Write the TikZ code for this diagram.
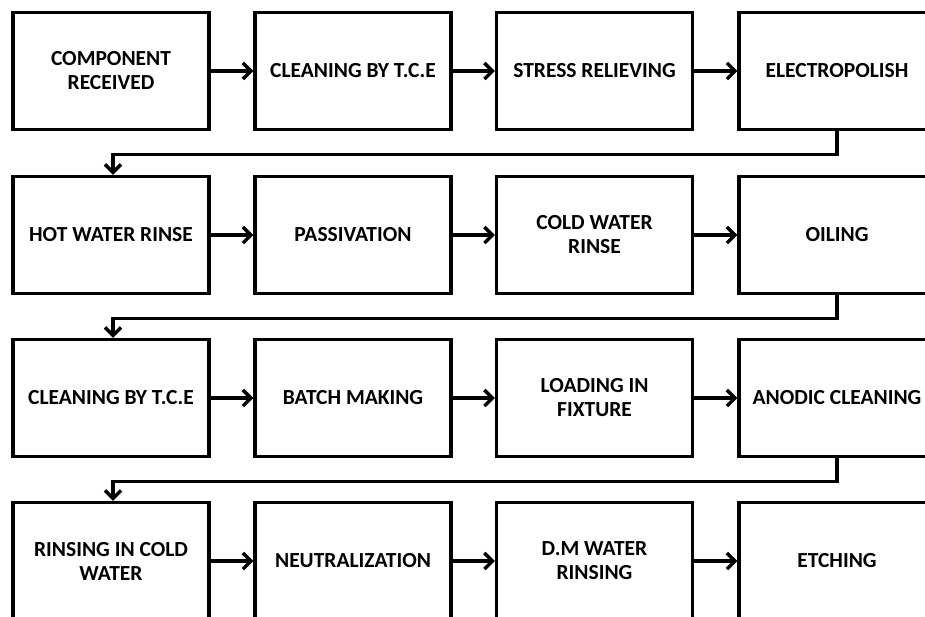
\documentclass[tikz,border=0pt]{standalone}
\usepackage{fontspec}
\setmainfont{Carlito}
\usetikzlibrary{arrows.meta}
\begin{document}
\begin{tikzpicture}[x=1pt,y=-1pt,
  stepbox/.style={draw=black,line width=3.4pt,minimum width=196pt,minimum height=117pt,
    align=center,font=\fontsize{21.5}{24}\selectfont\bfseries,inner sep=2pt,fill=white},
  conn/.style={line width=3.4pt,-{Straight Barb[length=8pt,width=16pt,line width=3.4pt]}}]
\useasboundingbox (0,0) rectangle (925,616);
\clip (0,0) rectangle (925,616);
\def\ya{71}\def\yb{235}\def\yc{398}\def\yd{561}
\def\xa{111}\def\xb{353}\def\xc{594.5}\def\xd{837}
\node[stepbox] (a1) at (\xa,\ya) {COMPONENT\\RECEIVED};
\node[stepbox] (a2) at (\xb,\ya) {CLEANING BY T.C.E};
\node[stepbox] (a3) at (\xc,\ya) {STRESS RELIEVING};
\node[stepbox] (a4) at (\xd,\ya) {ELECTROPOLISH};
\node[stepbox] (b1) at (\xa,\yb) {HOT WATER RINSE};
\node[stepbox] (b2) at (\xb,\yb) {PASSIVATION};
\node[stepbox] (b3) at (\xc,\yb) {COLD WATER\\RINSE};
\node[stepbox] (b4) at (\xd,\yb) {OILING};
\node[stepbox] (c1) at (\xa,\yc) {CLEANING BY T.C.E};
\node[stepbox] (c2) at (\xb,\yc) {BATCH MAKING};
\node[stepbox] (c3) at (\xc,\yc) {LOADING IN\\FIXTURE};
\node[stepbox] (c4) at (\xd,\yc) {ANODIC CLEANING};
\node[stepbox] (d1) at (\xa,\yd) {RINSING IN COLD\\WATER};
\node[stepbox] (d2) at (\xb,\yd) {NEUTRALIZATION};
\node[stepbox] (d3) at (\xc,\yd) {D.M WATER\\RINSING};
\node[stepbox] (d4) at (\xd,\yd) {ETCHING};
\foreach \r in {a,b,c,d}{
  \draw[conn] (\r1) -- (\r2);
  \draw[conn] (\r2) -- (\r3);
  \draw[conn] (\r3) -- (\r4);
}
\draw[conn] (a4.south) -- ++(0,23) -| ([xshift=2pt]b1.north);
\draw[conn] (b4.south) -- ++(0,23) -| ([xshift=2pt]c1.north);
\draw[conn] (c4.south) -- ++(0,23) -| ([xshift=2pt]d1.north);
\end{tikzpicture}
\end{document}
